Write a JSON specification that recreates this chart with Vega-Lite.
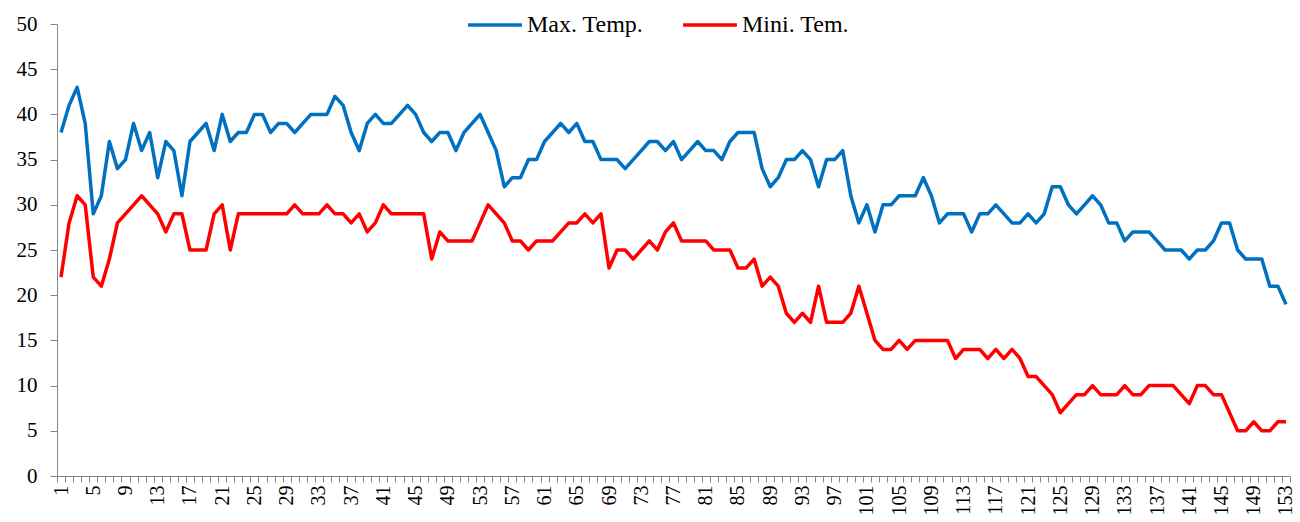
{
"$schema": "https://vega.github.io/schema/vega-lite/v6.json",
"width": 1233, "height": 452,
"autosize": {"type": "none"},
"padding": {"left": 57, "top": 24, "right": 10, "bottom": 46},
"background": "white",
"config": {"view": {"stroke": null}, "font": "Liberation Serif", "axis": {"labelFont": "Liberation Serif"}, "legend": {"labelFont": "Liberation Serif"}},
"data": {"values": [
{"day":1,"series":"Max. Temp.","temp":38},{"day":2,"series":"Max. Temp.","temp":41},{"day":3,"series":"Max. Temp.","temp":43},{"day":4,"series":"Max. Temp.","temp":39},{"day":5,"series":"Max. Temp.","temp":29},{"day":6,"series":"Max. Temp.","temp":31},{"day":7,"series":"Max. Temp.","temp":37},{"day":8,"series":"Max. Temp.","temp":34},{"day":9,"series":"Max. Temp.","temp":35},{"day":10,"series":"Max. Temp.","temp":39},
{"day":11,"series":"Max. Temp.","temp":36},{"day":12,"series":"Max. Temp.","temp":38},{"day":13,"series":"Max. Temp.","temp":33},{"day":14,"series":"Max. Temp.","temp":37},{"day":15,"series":"Max. Temp.","temp":36},{"day":16,"series":"Max. Temp.","temp":31},{"day":17,"series":"Max. Temp.","temp":37},{"day":18,"series":"Max. Temp.","temp":38},{"day":19,"series":"Max. Temp.","temp":39},{"day":20,"series":"Max. Temp.","temp":36},
{"day":21,"series":"Max. Temp.","temp":40},{"day":22,"series":"Max. Temp.","temp":37},{"day":23,"series":"Max. Temp.","temp":38},{"day":24,"series":"Max. Temp.","temp":38},{"day":25,"series":"Max. Temp.","temp":40},{"day":26,"series":"Max. Temp.","temp":40},{"day":27,"series":"Max. Temp.","temp":38},{"day":28,"series":"Max. Temp.","temp":39},{"day":29,"series":"Max. Temp.","temp":39},{"day":30,"series":"Max. Temp.","temp":38},
{"day":31,"series":"Max. Temp.","temp":39},{"day":32,"series":"Max. Temp.","temp":40},{"day":33,"series":"Max. Temp.","temp":40},{"day":34,"series":"Max. Temp.","temp":40},{"day":35,"series":"Max. Temp.","temp":42},{"day":36,"series":"Max. Temp.","temp":41},{"day":37,"series":"Max. Temp.","temp":38},{"day":38,"series":"Max. Temp.","temp":36},{"day":39,"series":"Max. Temp.","temp":39},{"day":40,"series":"Max. Temp.","temp":40},
{"day":41,"series":"Max. Temp.","temp":39},{"day":42,"series":"Max. Temp.","temp":39},{"day":43,"series":"Max. Temp.","temp":40},{"day":44,"series":"Max. Temp.","temp":41},{"day":45,"series":"Max. Temp.","temp":40},{"day":46,"series":"Max. Temp.","temp":38},{"day":47,"series":"Max. Temp.","temp":37},{"day":48,"series":"Max. Temp.","temp":38},{"day":49,"series":"Max. Temp.","temp":38},{"day":50,"series":"Max. Temp.","temp":36},
{"day":51,"series":"Max. Temp.","temp":38},{"day":52,"series":"Max. Temp.","temp":39},{"day":53,"series":"Max. Temp.","temp":40},{"day":54,"series":"Max. Temp.","temp":38},{"day":55,"series":"Max. Temp.","temp":36},{"day":56,"series":"Max. Temp.","temp":32},{"day":57,"series":"Max. Temp.","temp":33},{"day":58,"series":"Max. Temp.","temp":33},{"day":59,"series":"Max. Temp.","temp":35},{"day":60,"series":"Max. Temp.","temp":35},
{"day":61,"series":"Max. Temp.","temp":37},{"day":62,"series":"Max. Temp.","temp":38},{"day":63,"series":"Max. Temp.","temp":39},{"day":64,"series":"Max. Temp.","temp":38},{"day":65,"series":"Max. Temp.","temp":39},{"day":66,"series":"Max. Temp.","temp":37},{"day":67,"series":"Max. Temp.","temp":37},{"day":68,"series":"Max. Temp.","temp":35},{"day":69,"series":"Max. Temp.","temp":35},{"day":70,"series":"Max. Temp.","temp":35},
{"day":71,"series":"Max. Temp.","temp":34},{"day":72,"series":"Max. Temp.","temp":35},{"day":73,"series":"Max. Temp.","temp":36},{"day":74,"series":"Max. Temp.","temp":37},{"day":75,"series":"Max. Temp.","temp":37},{"day":76,"series":"Max. Temp.","temp":36},{"day":77,"series":"Max. Temp.","temp":37},{"day":78,"series":"Max. Temp.","temp":35},{"day":79,"series":"Max. Temp.","temp":36},{"day":80,"series":"Max. Temp.","temp":37},
{"day":81,"series":"Max. Temp.","temp":36},{"day":82,"series":"Max. Temp.","temp":36},{"day":83,"series":"Max. Temp.","temp":35},{"day":84,"series":"Max. Temp.","temp":37},{"day":85,"series":"Max. Temp.","temp":38},{"day":86,"series":"Max. Temp.","temp":38},{"day":87,"series":"Max. Temp.","temp":38},{"day":88,"series":"Max. Temp.","temp":34},{"day":89,"series":"Max. Temp.","temp":32},{"day":90,"series":"Max. Temp.","temp":33},
{"day":91,"series":"Max. Temp.","temp":35},{"day":92,"series":"Max. Temp.","temp":35},{"day":93,"series":"Max. Temp.","temp":36},{"day":94,"series":"Max. Temp.","temp":35},{"day":95,"series":"Max. Temp.","temp":32},{"day":96,"series":"Max. Temp.","temp":35},{"day":97,"series":"Max. Temp.","temp":35},{"day":98,"series":"Max. Temp.","temp":36},{"day":99,"series":"Max. Temp.","temp":31},{"day":100,"series":"Max. Temp.","temp":28},
{"day":101,"series":"Max. Temp.","temp":30},{"day":102,"series":"Max. Temp.","temp":27},{"day":103,"series":"Max. Temp.","temp":30},{"day":104,"series":"Max. Temp.","temp":30},{"day":105,"series":"Max. Temp.","temp":31},{"day":106,"series":"Max. Temp.","temp":31},{"day":107,"series":"Max. Temp.","temp":31},{"day":108,"series":"Max. Temp.","temp":33},{"day":109,"series":"Max. Temp.","temp":31},{"day":110,"series":"Max. Temp.","temp":28},
{"day":111,"series":"Max. Temp.","temp":29},{"day":112,"series":"Max. Temp.","temp":29},{"day":113,"series":"Max. Temp.","temp":29},{"day":114,"series":"Max. Temp.","temp":27},{"day":115,"series":"Max. Temp.","temp":29},{"day":116,"series":"Max. Temp.","temp":29},{"day":117,"series":"Max. Temp.","temp":30},{"day":118,"series":"Max. Temp.","temp":29},{"day":119,"series":"Max. Temp.","temp":28},{"day":120,"series":"Max. Temp.","temp":28},
{"day":121,"series":"Max. Temp.","temp":29},{"day":122,"series":"Max. Temp.","temp":28},{"day":123,"series":"Max. Temp.","temp":29},{"day":124,"series":"Max. Temp.","temp":32},{"day":125,"series":"Max. Temp.","temp":32},{"day":126,"series":"Max. Temp.","temp":30},{"day":127,"series":"Max. Temp.","temp":29},{"day":128,"series":"Max. Temp.","temp":30},{"day":129,"series":"Max. Temp.","temp":31},{"day":130,"series":"Max. Temp.","temp":30},
{"day":131,"series":"Max. Temp.","temp":28},{"day":132,"series":"Max. Temp.","temp":28},{"day":133,"series":"Max. Temp.","temp":26},{"day":134,"series":"Max. Temp.","temp":27},{"day":135,"series":"Max. Temp.","temp":27},{"day":136,"series":"Max. Temp.","temp":27},{"day":137,"series":"Max. Temp.","temp":26},{"day":138,"series":"Max. Temp.","temp":25},{"day":139,"series":"Max. Temp.","temp":25},{"day":140,"series":"Max. Temp.","temp":25},
{"day":141,"series":"Max. Temp.","temp":24},{"day":142,"series":"Max. Temp.","temp":25},{"day":143,"series":"Max. Temp.","temp":25},{"day":144,"series":"Max. Temp.","temp":26},{"day":145,"series":"Max. Temp.","temp":28},{"day":146,"series":"Max. Temp.","temp":28},{"day":147,"series":"Max. Temp.","temp":25},{"day":148,"series":"Max. Temp.","temp":24},{"day":149,"series":"Max. Temp.","temp":24},{"day":150,"series":"Max. Temp.","temp":24},
{"day":151,"series":"Max. Temp.","temp":21},{"day":152,"series":"Max. Temp.","temp":21},{"day":153,"series":"Max. Temp.","temp":19},
{"day":1,"series":"Mini. Tem.","temp":22},{"day":2,"series":"Mini. Tem.","temp":28},{"day":3,"series":"Mini. Tem.","temp":31},{"day":4,"series":"Mini. Tem.","temp":30},{"day":5,"series":"Mini. Tem.","temp":22},{"day":6,"series":"Mini. Tem.","temp":21},{"day":7,"series":"Mini. Tem.","temp":24},{"day":8,"series":"Mini. Tem.","temp":28},{"day":9,"series":"Mini. Tem.","temp":29},{"day":10,"series":"Mini. Tem.","temp":30},
{"day":11,"series":"Mini. Tem.","temp":31},{"day":12,"series":"Mini. Tem.","temp":30},{"day":13,"series":"Mini. Tem.","temp":29},{"day":14,"series":"Mini. Tem.","temp":27},{"day":15,"series":"Mini. Tem.","temp":29},{"day":16,"series":"Mini. Tem.","temp":29},{"day":17,"series":"Mini. Tem.","temp":25},{"day":18,"series":"Mini. Tem.","temp":25},{"day":19,"series":"Mini. Tem.","temp":25},{"day":20,"series":"Mini. Tem.","temp":29},
{"day":21,"series":"Mini. Tem.","temp":30},{"day":22,"series":"Mini. Tem.","temp":25},{"day":23,"series":"Mini. Tem.","temp":29},{"day":24,"series":"Mini. Tem.","temp":29},{"day":25,"series":"Mini. Tem.","temp":29},{"day":26,"series":"Mini. Tem.","temp":29},{"day":27,"series":"Mini. Tem.","temp":29},{"day":28,"series":"Mini. Tem.","temp":29},{"day":29,"series":"Mini. Tem.","temp":29},{"day":30,"series":"Mini. Tem.","temp":30},
{"day":31,"series":"Mini. Tem.","temp":29},{"day":32,"series":"Mini. Tem.","temp":29},{"day":33,"series":"Mini. Tem.","temp":29},{"day":34,"series":"Mini. Tem.","temp":30},{"day":35,"series":"Mini. Tem.","temp":29},{"day":36,"series":"Mini. Tem.","temp":29},{"day":37,"series":"Mini. Tem.","temp":28},{"day":38,"series":"Mini. Tem.","temp":29},{"day":39,"series":"Mini. Tem.","temp":27},{"day":40,"series":"Mini. Tem.","temp":28},
{"day":41,"series":"Mini. Tem.","temp":30},{"day":42,"series":"Mini. Tem.","temp":29},{"day":43,"series":"Mini. Tem.","temp":29},{"day":44,"series":"Mini. Tem.","temp":29},{"day":45,"series":"Mini. Tem.","temp":29},{"day":46,"series":"Mini. Tem.","temp":29},{"day":47,"series":"Mini. Tem.","temp":24},{"day":48,"series":"Mini. Tem.","temp":27},{"day":49,"series":"Mini. Tem.","temp":26},{"day":50,"series":"Mini. Tem.","temp":26},
{"day":51,"series":"Mini. Tem.","temp":26},{"day":52,"series":"Mini. Tem.","temp":26},{"day":53,"series":"Mini. Tem.","temp":28},{"day":54,"series":"Mini. Tem.","temp":30},{"day":55,"series":"Mini. Tem.","temp":29},{"day":56,"series":"Mini. Tem.","temp":28},{"day":57,"series":"Mini. Tem.","temp":26},{"day":58,"series":"Mini. Tem.","temp":26},{"day":59,"series":"Mini. Tem.","temp":25},{"day":60,"series":"Mini. Tem.","temp":26},
{"day":61,"series":"Mini. Tem.","temp":26},{"day":62,"series":"Mini. Tem.","temp":26},{"day":63,"series":"Mini. Tem.","temp":27},{"day":64,"series":"Mini. Tem.","temp":28},{"day":65,"series":"Mini. Tem.","temp":28},{"day":66,"series":"Mini. Tem.","temp":29},{"day":67,"series":"Mini. Tem.","temp":28},{"day":68,"series":"Mini. Tem.","temp":29},{"day":69,"series":"Mini. Tem.","temp":23},{"day":70,"series":"Mini. Tem.","temp":25},
{"day":71,"series":"Mini. Tem.","temp":25},{"day":72,"series":"Mini. Tem.","temp":24},{"day":73,"series":"Mini. Tem.","temp":25},{"day":74,"series":"Mini. Tem.","temp":26},{"day":75,"series":"Mini. Tem.","temp":25},{"day":76,"series":"Mini. Tem.","temp":27},{"day":77,"series":"Mini. Tem.","temp":28},{"day":78,"series":"Mini. Tem.","temp":26},{"day":79,"series":"Mini. Tem.","temp":26},{"day":80,"series":"Mini. Tem.","temp":26},
{"day":81,"series":"Mini. Tem.","temp":26},{"day":82,"series":"Mini. Tem.","temp":25},{"day":83,"series":"Mini. Tem.","temp":25},{"day":84,"series":"Mini. Tem.","temp":25},{"day":85,"series":"Mini. Tem.","temp":23},{"day":86,"series":"Mini. Tem.","temp":23},{"day":87,"series":"Mini. Tem.","temp":24},{"day":88,"series":"Mini. Tem.","temp":21},{"day":89,"series":"Mini. Tem.","temp":22},{"day":90,"series":"Mini. Tem.","temp":21},
{"day":91,"series":"Mini. Tem.","temp":18},{"day":92,"series":"Mini. Tem.","temp":17},{"day":93,"series":"Mini. Tem.","temp":18},{"day":94,"series":"Mini. Tem.","temp":17},{"day":95,"series":"Mini. Tem.","temp":21},{"day":96,"series":"Mini. Tem.","temp":17},{"day":97,"series":"Mini. Tem.","temp":17},{"day":98,"series":"Mini. Tem.","temp":17},{"day":99,"series":"Mini. Tem.","temp":18},{"day":100,"series":"Mini. Tem.","temp":21},
{"day":101,"series":"Mini. Tem.","temp":18},{"day":102,"series":"Mini. Tem.","temp":15},{"day":103,"series":"Mini. Tem.","temp":14},{"day":104,"series":"Mini. Tem.","temp":14},{"day":105,"series":"Mini. Tem.","temp":15},{"day":106,"series":"Mini. Tem.","temp":14},{"day":107,"series":"Mini. Tem.","temp":15},{"day":108,"series":"Mini. Tem.","temp":15},{"day":109,"series":"Mini. Tem.","temp":15},{"day":110,"series":"Mini. Tem.","temp":15},
{"day":111,"series":"Mini. Tem.","temp":15},{"day":112,"series":"Mini. Tem.","temp":13},{"day":113,"series":"Mini. Tem.","temp":14},{"day":114,"series":"Mini. Tem.","temp":14},{"day":115,"series":"Mini. Tem.","temp":14},{"day":116,"series":"Mini. Tem.","temp":13},{"day":117,"series":"Mini. Tem.","temp":14},{"day":118,"series":"Mini. Tem.","temp":13},{"day":119,"series":"Mini. Tem.","temp":14},{"day":120,"series":"Mini. Tem.","temp":13},
{"day":121,"series":"Mini. Tem.","temp":11},{"day":122,"series":"Mini. Tem.","temp":11},{"day":123,"series":"Mini. Tem.","temp":10},{"day":124,"series":"Mini. Tem.","temp":9},{"day":125,"series":"Mini. Tem.","temp":7},{"day":126,"series":"Mini. Tem.","temp":8},{"day":127,"series":"Mini. Tem.","temp":9},{"day":128,"series":"Mini. Tem.","temp":9},{"day":129,"series":"Mini. Tem.","temp":10},{"day":130,"series":"Mini. Tem.","temp":9},
{"day":131,"series":"Mini. Tem.","temp":9},{"day":132,"series":"Mini. Tem.","temp":9},{"day":133,"series":"Mini. Tem.","temp":10},{"day":134,"series":"Mini. Tem.","temp":9},{"day":135,"series":"Mini. Tem.","temp":9},{"day":136,"series":"Mini. Tem.","temp":10},{"day":137,"series":"Mini. Tem.","temp":10},{"day":138,"series":"Mini. Tem.","temp":10},{"day":139,"series":"Mini. Tem.","temp":10},{"day":140,"series":"Mini. Tem.","temp":9},
{"day":141,"series":"Mini. Tem.","temp":8},{"day":142,"series":"Mini. Tem.","temp":10},{"day":143,"series":"Mini. Tem.","temp":10},{"day":144,"series":"Mini. Tem.","temp":9},{"day":145,"series":"Mini. Tem.","temp":9},{"day":146,"series":"Mini. Tem.","temp":7},{"day":147,"series":"Mini. Tem.","temp":5},{"day":148,"series":"Mini. Tem.","temp":5},{"day":149,"series":"Mini. Tem.","temp":6},{"day":150,"series":"Mini. Tem.","temp":5},
{"day":151,"series":"Mini. Tem.","temp":5},{"day":152,"series":"Mini. Tem.","temp":6},{"day":153,"series":"Mini. Tem.","temp":6}
]},
"mark": {"type": "line", "strokeWidth": 3.5, "strokeJoin": "round"},
"encoding": {
  "x": {"field": "day", "type": "ordinal", "bandPosition": 0.5,
    "scale": {"type": "band", "paddingInner": 0, "paddingOuter": 0},
    "axis": {"title": null, "labelAngle": -90, "labelExpr": "(datum.value - 1) % 4 == 0 ? datum.label : ''",
      "tickBand": "extent", "labelFont": "Liberation Serif", "labelFontSize": 20, "labelColor": "black",
      "domainColor": "#868686", "tickColor": "#868686", "tickSize": 6, "labelPadding": 3, "labelOverlap": false, "grid": false}},
  "y": {"field": "temp", "type": "quantitative", "scale": {"domain": [0, 50]},
    "axis": {"title": null, "values": [0,5,10,15,20,25,30,35,40,45,50], "grid": false,
      "labelFont": "Liberation Serif", "labelFontSize": 21, "labelColor": "black",
      "domainColor": "#868686", "tickColor": "#868686", "tickSize": 7, "labelPadding": 13}},
  "color": {"field": "series", "type": "nominal",
    "scale": {"domain": ["Max. Temp.", "Mini. Tem."], "range": ["#0070C0", "#FF0000"]},
    "legend": {"title": null, "orient": "none", "direction": "horizontal", "legendX": 409, "legendY": -28,
      "symbolType": "stroke", "symbolSize": 2900, "symbolStrokeWidth": 3.5,
      "labelFont": "Liberation Serif", "labelFontSize": 24, "labelColor": "black", "labelOffset": 3, "columnPadding": 32}}
}
}
